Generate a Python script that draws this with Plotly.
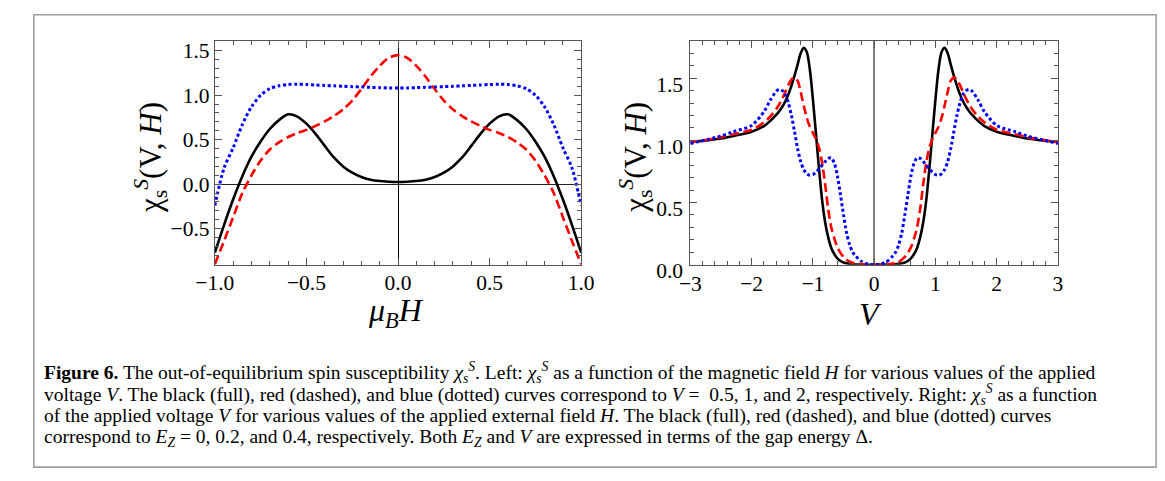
import plotly.graph_objects as go

W, H_PX = 1165, 481

# ---------------- data: left panel (chi vs mu_B H) ----------------
H_field = [-1.0, -0.95, -0.9, -0.85, -0.8, -0.75, -0.7, -0.65, -0.6, -0.55, -0.5,
           -0.45, -0.4, -0.35, -0.3, -0.25, -0.2, -0.15, -0.1, -0.05, 0.0,
           0.05, 0.1, 0.15, 0.2, 0.25, 0.3, 0.35, 0.4, 0.45, 0.5,
           0.55, 0.6, 0.65, 0.7, 0.75, 0.8, 0.85, 0.9, 0.95, 1.0]
chi_V05 = [-0.77, -0.46, -0.17, 0.09, 0.31, 0.48, 0.62, 0.72, 0.785, 0.76, 0.68,
           0.565, 0.43, 0.30, 0.20, 0.13, 0.08, 0.05, 0.035, 0.028, 0.025,
           0.028, 0.035, 0.05, 0.08, 0.13, 0.20, 0.30, 0.43, 0.565, 0.68,
           0.76, 0.785, 0.72, 0.62, 0.48, 0.31, 0.09, -0.17, -0.46, -0.77]
chi_V1 = [-0.90, -0.64, -0.37, -0.10, 0.10, 0.265, 0.39, 0.47, 0.53, 0.575, 0.61,
          0.655, 0.705, 0.765, 0.84, 0.94, 1.07, 1.21, 1.33, 1.42, 1.45,
          1.42, 1.33, 1.21, 1.07, 0.94, 0.84, 0.765, 0.705, 0.655, 0.61,
          0.575, 0.53, 0.47, 0.39, 0.265, 0.10, -0.10, -0.37, -0.64, -0.90]
chi_V2 = [-0.24, 0.18, 0.41, 0.67, 0.87, 1.0, 1.073, 1.106, 1.12, 1.123, 1.12,
          1.115, 1.11, 1.105, 1.10, 1.096, 1.092, 1.088, 1.085, 1.081, 1.08,
          1.081, 1.085, 1.088, 1.092, 1.096, 1.10, 1.105, 1.11, 1.115, 1.12,
          1.123, 1.12, 1.106, 1.073, 1.0, 0.87, 0.67, 0.41, 0.18, -0.24]

# ---------------- data: right panel (chi vs V) ----------------
V_volt = [-3, -2.5, -2.3, -2, -1.8, -1.7, -1.6, -1.55, -1.5, -1.45, -1.4, -1.35, -1.3,
          -1.25, -1.2, -1.15, -1.1, -1.05, -1, -0.95, -0.9, -0.85, -0.8, -0.75, -0.7,
          -0.65, -0.6, -0.55, -0.5, -0.45, -0.4, -0.35, -0.3, -0.2, -0.1, 0,
          0.1, 0.2, 0.3, 0.35, 0.4, 0.45, 0.5, 0.55, 0.6, 0.65, 0.7, 0.75, 0.8,
          0.85, 0.9, 0.95, 1, 1.05, 1.1, 1.15, 1.2, 1.25, 1.3, 1.35, 1.4, 1.45,
          1.5, 1.55, 1.6, 1.7, 1.8, 2, 2.3, 2.5, 3]
chi_EZ0 = [0.985, 1.015, 1.035, 1.07, 1.115, 1.155, 1.205, 1.235, 1.27, 1.315, 1.37, 1.44, 1.52,
           1.61, 1.70, 1.745, 1.71, 1.57, 1.33, 1.05, 0.77, 0.52, 0.34, 0.22, 0.135,
           0.085, 0.05, 0.03, 0.018, 0.011, 0.007, 0.004, 0.002, 0.0005, 0.0, 0.0,
           0.0, 0.0005, 0.002, 0.004, 0.007, 0.011, 0.018, 0.03, 0.05, 0.085, 0.135, 0.22, 0.34,
           0.52, 0.77, 1.05, 1.33, 1.57, 1.71, 1.745, 1.70, 1.61, 1.52, 1.44, 1.37, 1.315,
           1.27, 1.235, 1.205, 1.155, 1.115, 1.07, 1.035, 1.015, 0.985]
chi_EZ02 = [0.985, 1.025, 1.05, 1.085, 1.145, 1.19, 1.25, 1.29, 1.335, 1.39, 1.445, 1.49, 1.505,
            1.48, 1.39, 1.28, 1.18, 1.11, 1.06, 1.01, 0.94, 0.82, 0.645, 0.445, 0.30,
            0.21, 0.14, 0.095, 0.063, 0.04, 0.024, 0.016, 0.01, 0.003, 0.0005, 0.0,
            0.0005, 0.003, 0.01, 0.016, 0.024, 0.04, 0.063, 0.095, 0.14, 0.21, 0.30, 0.445, 0.645,
            0.82, 0.94, 1.01, 1.06, 1.11, 1.18, 1.28, 1.39, 1.48, 1.505, 1.49, 1.445, 1.39,
            1.335, 1.29, 1.25, 1.19, 1.145, 1.085, 1.05, 1.025, 0.985]
chi_EZ04 = [0.975, 1.035, 1.07, 1.12, 1.23, 1.32, 1.395, 1.41, 1.40, 1.37, 1.30, 1.20, 1.07,
            0.935, 0.83, 0.765, 0.73, 0.72, 0.725, 0.745, 0.77, 0.80, 0.83, 0.855, 0.86,
            0.815, 0.715, 0.56, 0.40, 0.255, 0.16, 0.10, 0.068, 0.023, 0.005, 0.0,
            0.005, 0.023, 0.068, 0.10, 0.16, 0.255, 0.40, 0.56, 0.715, 0.815, 0.86, 0.855, 0.83,
            0.80, 0.77, 0.745, 0.725, 0.72, 0.73, 0.765, 0.83, 0.935, 1.07, 1.20, 1.30, 1.37,
            1.40, 1.41, 1.395, 1.32, 1.23, 1.12, 1.07, 1.035, 0.975]

# ---------------- ticks ----------------
left_xticks = [-1.0, -0.5, 0.0, 0.5, 1.0]
left_xlabels = ["\u22121.0", "\u22120.5", "0.0", "0.5", "1.0"]
left_yticks = [-0.5, 0.0, 0.5, 1.0, 1.5]
left_ylabels = ["\u22120.5", "0.0", "0.5", "1.0", "1.5"]
right_xticks = [-3, -2, -1, 0, 1, 2, 3]
right_xlabels = ["\u22123", "\u22122", "\u22121", "0", "1", "2", "3"]
right_yticks = [0.0, 0.5, 1.0, 1.5]
right_ylabels = ["0.0", "0.5", "1.0", "1.5"]

caption_lines = [
    "<b>Figure 6.</b> The out-of-equilibrium spin susceptibility <i>χ</i><sub><i>s</i></sub><sup><i>S</i></sup>. "
    "Left: <i>χ</i><sub><i>s</i></sub><sup><i>S</i></sup> as a function of the magnetic field <i>H</i> for various values of the applied",
    "voltage <i>V</i>. The black (full), red (dashed), and blue (dotted) curves correspond to <i>V</i> =  0.5, 1, and 2, "
    "respectively. Right: <i>χ</i><sub><i>s</i></sub><sup><i>S</i></sup> as a function",
    "of the applied voltage <i>V</i> for various values of the applied external field <i>H</i>. "
    "The black (full), red (dashed), and blue (dotted) curves",
    "correspond to <i>E</i><sub><i>Z</i></sub> = 0, 0.2, and 0.4, respectively. Both <i>E</i><sub><i>Z</i></sub> "
    "and <i>V</i> are expressed in terms of the gap energy Δ.",
]

SERIF = "Liberation Serif, Times New Roman, serif"


def px(x):
    return x / W


def py(y):
    return 1 - y / H_PX


fig = go.Figure()

styles = [
    dict(color="black", width=2.6, dash="solid"),
    dict(color="#ff0000", width=2.6, dash="9px,4.5px"),
    dict(color="#0000ff", width=3.0, dash="3px,2.6px"),
]

for ys, st in zip([chi_V05, chi_V1, chi_V2], styles):
    fig.add_trace(go.Scatter(x=H_field, y=ys, mode="lines", line=dict(shape="spline", smoothing=0.8, **st),
                             xaxis="x", yaxis="y", showlegend=False, hoverinfo="skip"))
for ys, st in zip([chi_EZ0, chi_EZ02, chi_EZ04], styles):
    fig.add_trace(go.Scatter(x=V_volt, y=ys, mode="lines", line=dict(shape="spline", smoothing=0.8, **st),
                             xaxis="x2", yaxis="y2", showlegend=False, hoverinfo="skip"))

ydom = [py(266.8), py(33.3)]
common = dict(showline=True, linecolor="#555555", linewidth=1, mirror="ticks", ticks="inside",
              ticklen=7, tickwidth=1, tickcolor="#555555", showgrid=False,
              tickfont=dict(family=SERIF, size=21.5, color="black"), tickmode="array")

fig.update_layout(
    width=W, height=H_PX, autosize=False,
    margin=dict(l=0, r=0, t=0, b=0, pad=0),
    paper_bgcolor="white", plot_bgcolor="white",
    xaxis=dict(domain=[px(192.3), px(569.3)], range=[-1, 1], anchor="y",
               tickvals=left_xticks, ticktext=left_xlabels, ticklabelstandoff=-2,
               zeroline=True, zerolinecolor="black", zerolinewidth=1,
               minor=dict(dtick=0.1, tick0=0, ticklen=4, ticks="inside", tickcolor="#555555"),
               **common),
    yaxis=dict(domain=ydom, range=[-0.905, 1.61], anchor="x",
               tickvals=left_yticks, ticktext=left_ylabels,
               zeroline=True, zerolinecolor="#222222", zerolinewidth=1,
               minor=dict(dtick=0.1, tick0=0, ticklen=4, ticks="inside", tickcolor="#555555"),
               **common),
    xaxis2=dict(domain=[px(681.7), px(1060)], range=[-3, 3], anchor="y2",
                tickvals=right_xticks, ticktext=right_xlabels, ticklabelstandoff=-1,
                zeroline=True, zerolinecolor="#808080", zerolinewidth=1.6,
                minor=dict(dtick=0.2, tick0=0, ticklen=4, ticks="inside", tickcolor="#555555"),
                **common),
    yaxis2=dict(domain=ydom, range=[0, 1.8], anchor="x2",
                tickvals=right_yticks, ticktext=right_ylabels, zeroline=False,
                ticklabelshift=6, ticklabelstandoff=2,
                minor=dict(dtick=0.1, tick0=0, ticklen=4, ticks="inside", tickcolor="#555555"),
                **common),
)

annotations = []
TFONT = dict(family=SERIF, size=31, color="black")
annotations.append(dict(text="χ<sub>s</sub><sup><i>S</i></sup>(V, <i>H</i>)", x=px(126), y=py(155),
                        xref="paper", yref="paper", textangle=-90, showarrow=False,
                        xanchor="center", yanchor="middle", font=TFONT))
annotations.append(dict(text="χ<sub>s</sub><sup><i>S</i></sup>(V, <i>H</i>)", x=px(625), y=py(155),
                        xref="paper", yref="paper", textangle=-90, showarrow=False,
                        xanchor="center", yanchor="middle", font=TFONT))
annotations.append(dict(text="<i>μ</i><sub><i>B</i></sub><i>H</i>", x=px(379), y=py(317),
                        xref="paper", yref="paper", showarrow=False,
                        xanchor="center", yanchor="middle", font=dict(family=SERIF, size=32, color="black")))
annotations.append(dict(text="<i>V</i>", x=px(867), y=py(318),
                        xref="paper", yref="paper", showarrow=False,
                        xanchor="center", yanchor="middle", font=dict(family=SERIF, size=32, color="black")))

baselines = [385, 408, 431, 454]
for line, b in zip(caption_lines, baselines):
    annotations.append(dict(text=line, x=px(14), y=py(b - 6), xref="paper", yref="paper",
                            showarrow=False, xanchor="left", yanchor="middle", align="left",
                            font=dict(family=SERIF, size=19.5, color="black")))

fig.update_layout(annotations=annotations)

fig.add_shape(type="rect", xref="paper", yref="paper", x0=px(6), x1=px(1161), y0=py(478), y1=py(6),
              line=dict(color="#a0a0a0", width=1.6), fillcolor="rgba(0,0,0,0)", layer="below")

fig.write_html("out.html")
